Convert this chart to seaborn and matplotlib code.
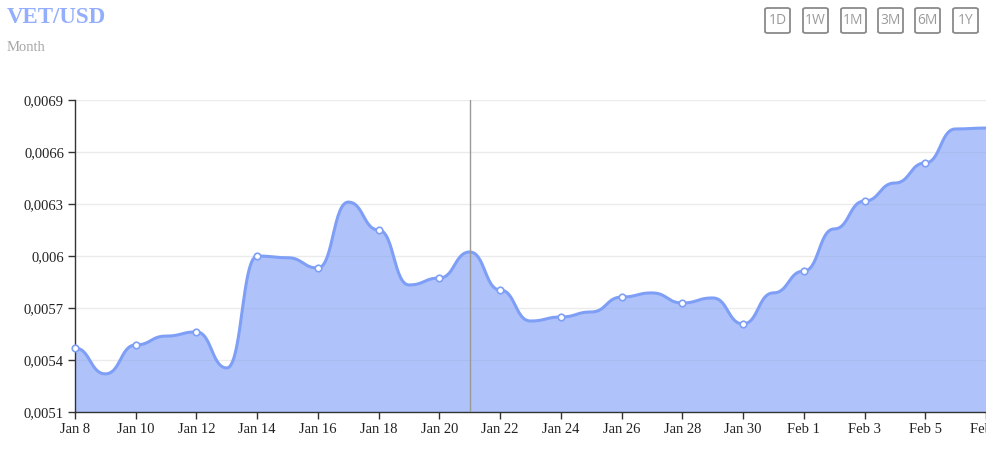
import numpy as np
import pandas as pd
import matplotlib
matplotlib.use("Agg")
import matplotlib.pyplot as plt
import seaborn as sns
from matplotlib.ticker import FuncFormatter
from matplotlib.patches import FancyBboxPatch

# daily closing price, Jan 8 .. Feb 7
dates = pd.date_range("2020-01-08", "2020-02-07", freq="D")
prices = [0.005469, 0.005320, 0.005487, 0.005538, 0.005562, 0.005354, 0.006000,
          0.005990, 0.005931, 0.006311, 0.006150, 0.005833, 0.005873, 0.006023,
          0.005804, 0.005625, 0.005648, 0.005677, 0.005763, 0.005787, 0.005729,
          0.005758, 0.005608, 0.005787, 0.005913, 0.006156, 0.006317, 0.006421,
          0.006537, 0.006733, 0.006738]
y_ticks = [0.0051, 0.0054, 0.0057, 0.0060, 0.0063, 0.0066, 0.0069]
buttons = ["1D", "1W", "1M", "3M", "6M", "1Y"]
marked_every = 2
hover_day = "2020-01-21"

LINE = "#7f9ff7"
df = pd.DataFrame({"date": dates, "price": prices})
df["day"] = (df["date"] - df["date"].iloc[0]).dt.days


def bump_x(x, y, steps=30):
    # d3.curveBumpX style: cubic bezier with flat tangents at each point (drawing only)
    x = np.asarray(x, float)
    y = np.asarray(y, float)
    t = np.linspace(0, 1, steps, endpoint=False)
    a, b, c, d = (1 - t) ** 3, 3 * t * (1 - t) ** 2, 3 * t**2 * (1 - t), t**3
    xs, ys = [], []
    for i in range(len(x) - 1):
        xm = (x[i] + x[i + 1]) / 2
        xs.append(a * x[i] + b * xm + c * xm + d * x[i + 1])
        ys.append(a * y[i] + b * y[i] + c * y[i + 1] + d * y[i + 1])
    xs.append([x[-1]])
    ys.append([y[-1]])
    return np.concatenate(xs), np.concatenate(ys)


cx, cy = bump_x(df["day"], df["price"])
curve = pd.DataFrame({"day": cx, "price": cy})

sns.set_style("white")
plt.rcParams["font.family"] = ["Liberation Serif", "DejaVu Serif"]

W, H = 986, 462
fig = plt.figure(figsize=(W / 100, H / 100), dpi=100)
ax = fig.add_axes([75 / W, 50 / H, 911 / W, 312 / H])

ax.set_ylim(y_ticks[0], y_ticks[-1])
ax.set_xlim(df["day"].min(), df["day"].max())
ax.set_yticks(y_ticks)
ax.yaxis.grid(True, color="#ebebeb", linewidth=1, zorder=0)
ax.set_axisbelow(True)

ax.fill_between(curve["day"], curve["price"], y_ticks[0], color=LINE, alpha=0.62, lw=0, zorder=2)
sns.lineplot(data=curve, x="day", y="price", color=LINE, linewidth=2.2, ax=ax, zorder=3)

hx = df.loc[df["date"] == pd.Timestamp(hover_day), "day"].iloc[0]
ax.axvline(hx, color="#9a9a9a", linewidth=1, zorder=4)

pts = df.iloc[::marked_every]
shown = pts[pts["day"] < df["day"].max()]
sns.scatterplot(data=shown, x="day", y="price", s=22, color="white", edgecolor=LINE,
                linewidth=1.2, ax=ax, zorder=5, clip_on=False)

ax.set_xticks(pts["day"])
ax.set_xticklabels([d.strftime("%b ") + str(d.day) for d in pts["date"]])
ax.yaxis.set_major_formatter(FuncFormatter(lambda v, _: ("%.4f" % v).rstrip("0").replace(".", ",")))
ax.set_xlabel("")
ax.set_ylabel("")
for side in ["top", "right"]:
    ax.spines[side].set_visible(False)
for side in ["left", "bottom"]:
    ax.spines[side].set_color("#333333")
    ax.spines[side].set_linewidth(1)
ax.tick_params(axis="both", length=5, width=1, color="#333333", labelsize=10.5,
               labelcolor="#222222", pad=3, direction="out")
ax.tick_params(axis="x", bottom=True)
ax.tick_params(axis="y", left=True)

fig.text(7 / W, 1 - 7 / H, "VET/USD", fontsize=16.5, fontweight="bold",
         color="#93aefc", ha="left", va="top")
fig.text(7 / W, 1 - 41 / H, "Month", fontsize=10.5, color="#a6a6a6", ha="left", va="top")

bx = [765, 803, 841, 878, 915, 953]
for label, x in zip(buttons, bx):
    box = FancyBboxPatch((x / W, 1 - 33 / H), 25 / W, 25 / H, boxstyle="round,pad=0,rounding_size=0.003",
                         transform=fig.transFigure, fc="white", ec="#8a8a8a", lw=1.3)
    fig.patches.append(box)
    fig.text((x + 12.5) / W, 1 - 20.5 / H, label, fontsize=10, color="#9a9a9a",
             family="Open Sans", ha="center", va="center")

fig.savefig("out.png", dpi=100)
